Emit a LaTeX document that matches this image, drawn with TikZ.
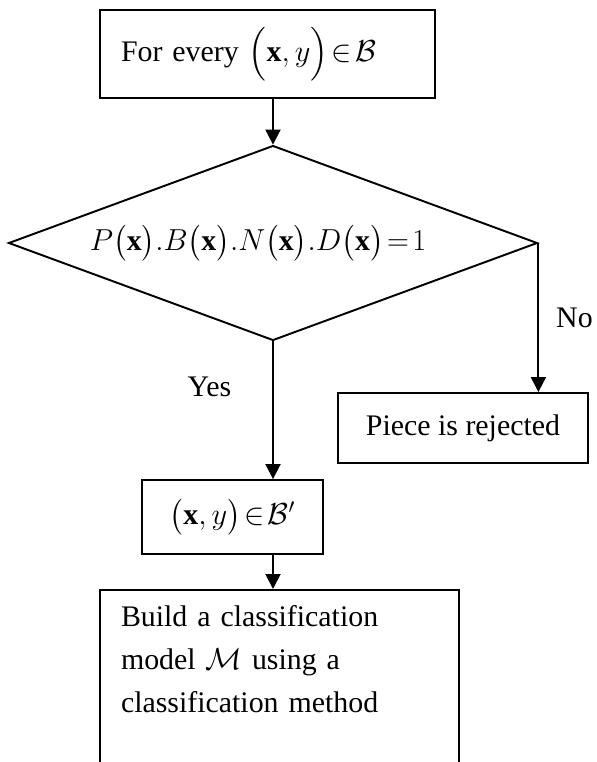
\documentclass[tikz,border=0pt]{standalone}
\usepackage{amsmath,amssymb}
\usepackage{fontspec}
\setmainfont{Liberation Serif}
\usetikzlibrary{shapes.geometric,arrows.meta,positioning}

\begin{document}
\begin{tikzpicture}[
    x=0.02cm, y=-0.02cm,
    every node/.style={font=\fontsize{17}{24.5}\selectfont},
    box/.style={draw, rectangle, line width=1.1pt, align=center},
    decision/.style={draw, diamond, aspect=2.71, line width=1.1pt, minimum width=10.58cm, minimum height=3.9cm, inner sep=0pt},
    arrow/.style={-{Triangle[length=0.3cm,width=0.3cm]}, line width=1.1pt}
]
\useasboundingbox (0,0) rectangle (597,762);

\node[box, minimum height=1.76cm, text width=5.86cm, inner xsep=0.42cm, align=left] (start) at (267.5,54) {For every $\Bigl(\mathbf{x},y\Bigr)\!\in\!\mathcal{B}$};
\node[decision] (dec) at (273,243) {$P\bigl(\mathbf{x}\bigr).B\bigl(\mathbf{x}\bigr).N\bigl(\mathbf{x}\bigr).D\bigl(\mathbf{x}\bigr)\!=\!1$\hspace*{0.6cm}};
\node[box, minimum width=5cm, minimum height=1.4cm] (reject) at (463,428) {Piece is rejected};
\node[box, minimum width=3.62cm, minimum height=1.48cm] (prime) at (232.5,517) {$\bigl(\mathbf{x},y\bigr)\!\in\!\mathcal{B}'$};
\node[box, anchor=north, text width=6.34cm, inner xsep=0.42cm, inner ysep=0.3cm, align=left] (model) at (279.5,589) {Build a classification\\ model $\mathcal{M}$ using a\\ classification method\\ \strut};

\draw[arrow] (dec.north |- start.south) -- (dec.north);
\draw[arrow] (dec.south) -- node[pos=0.33, left=0.7cm] (yes) {Yes} (dec.south |- prime.north);
\draw[arrow] (dec.east) -- node[pos=0.5, right=0.22cm] (no) {No} (dec.east |- reject.north);
\draw[arrow] (dec.south |- prime.south) -- (dec.south |- model.north);

\end{tikzpicture}
\end{document}
